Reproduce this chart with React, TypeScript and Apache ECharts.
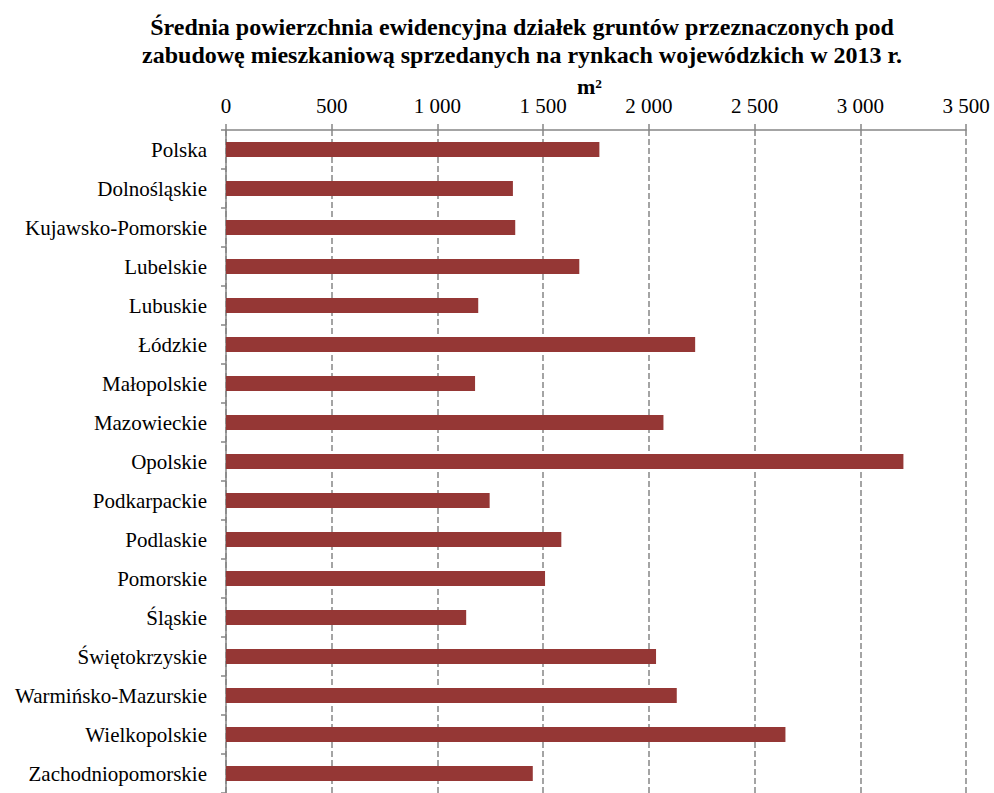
import React, { useEffect, useRef } from "react";
import * as echarts from "echarts";

const categories = [
  "Polska",
  "Dolnośląskie",
  "Kujawsko-Pomorskie",
  "Lubelskie",
  "Lubuskie",
  "Łódzkie",
  "Małopolskie",
  "Mazowieckie",
  "Opolskie",
  "Podkarpackie",
  "Podlaskie",
  "Pomorskie",
  "Śląskie",
  "Świętokrzyskie",
  "Warmińsko-Mazurskie",
  "Wielkopolskie",
  "Zachodniopomorskie",
];

const values = [1766, 1357, 1368, 1671, 1193, 2219, 1178, 2069, 3204, 1247, 1586, 1509, 1136, 2034, 2132, 2646, 1451];

const titleLines = [
  "Średnia powierzchnia ewidencyjna działek gruntów przeznaczonych pod",
  "zabudowę mieszkaniową sprzedanych na rynkach wojewódzkich w 2013 r.",
];
const unitLabel = "m²";

const FONT = "'Liberation Serif', 'Times New Roman', serif";

export default function App() {
  const ref = useRef<HTMLDivElement>(null);
  useEffect(() => {
    if (!ref.current) return;
    const chart = echarts.init(ref.current, null, { renderer: "svg" });
    chart.setOption({
      animation: false,
      backgroundColor: "#ffffff",
      title: {
        text: titleLines.join("\n"),
        left: 517,
        top: 8,
        textAlign: "center",
        textStyle: {
          fontFamily: FONT,
          fontSize: 24,
          fontWeight: "bold",
          color: "#000",
          lineHeight: 28,
        },
      },
      graphic: [
        {
          type: "text",
          left: 577,
          top: 75,
          style: {
            text: unitLabel,
            fontFamily: FONT,
            fontSize: 22,
            fontWeight: "bold",
            fill: "#000",
          },
        },
      ],
      grid: { left: 226, right: 28, top: 130, bottom: -2, containLabel: false },
      xAxis: {
        type: "value",
        position: "top",
        min: 0,
        max: 3500,
        interval: 500,
        axisLine: { show: true, lineStyle: { color: "#868686", width: 1.5 } },
        axisTick: { show: true, length: 6, lineStyle: { color: "#868686", width: 1.5 } },
        axisLabel: {
          margin: 14,
          fontFamily: FONT,
          fontSize: 21,
          color: "#000",
          formatter: (v: number) => String(v).replace(/\B(?=(\d{3})+(?!\d))/g, " "),
        },
        splitLine: {
          show: true,
          lineStyle: { color: "#868686", type: [6, 3], width: 1.5 },
        },
      },
      yAxis: {
        type: "category",
        inverse: true,
        data: categories,
        axisLine: { show: true, lineStyle: { color: "#868686", width: 1.5 } },
        axisTick: { show: true, length: 5, lineStyle: { color: "#868686", width: 1.5 } },
        axisLabel: {
          margin: 19,
          fontFamily: FONT,
          fontSize: 21,
          color: "#000",
        },
      },
      series: [
        {
          type: "bar",
          data: values,
          barWidth: 15,
          itemStyle: { color: "#953735" },
        },
      ],
    });
    return () => chart.dispose();
  }, []);
  return <div ref={ref} style={{ width: 994, height: 793, position: "fixed", left: 0, top: 0 }} />;
}
